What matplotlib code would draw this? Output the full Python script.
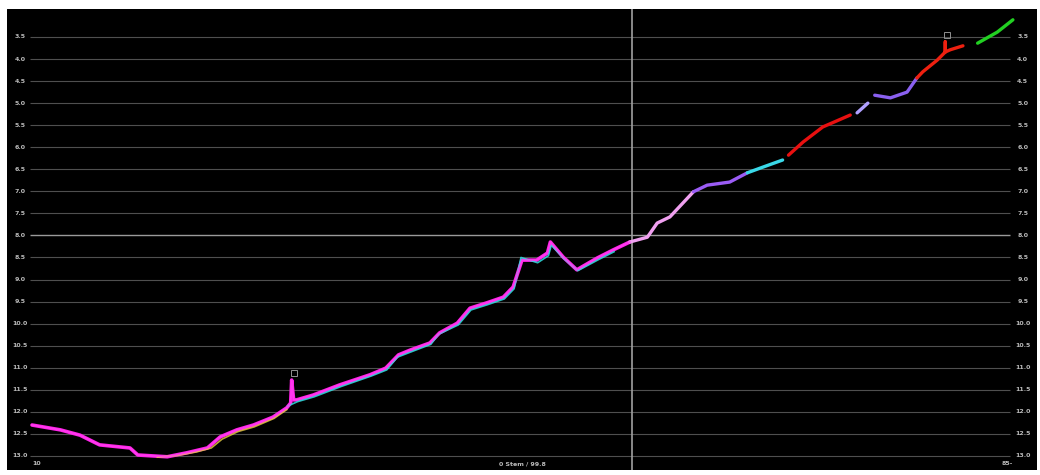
"""Multi-colour log trace on a black panel, inverted depth-style y axis."""
import matplotlib.pyplot as plt
import numpy as np

# main trace (several overlapping runs), left half
main_x = [0.2, 3.1, 5.1, 7.1, 10.2, 11.0, 14.0, 16.0, 18.1, 19.4, 21.1, 22.8, 24.8, 26.2,
          26.6, 26.7, 26.9, 27.2, 28.9, 31.6, 34.7, 36.3, 37.6, 38.8, 40.8, 41.8, 43.6,
          44.9, 46.6, 48.3, 49.3, 50.2, 51.7, 52.8, 53.1, 54.4, 55.8, 57.9, 59.5, 61.2]
main_y = [12.30, 12.41, 12.53, 12.75, 12.82, 12.98, 13.02, 12.93, 12.82, 12.57, 12.41, 12.30,
          12.12, 11.91, 11.80, 11.28, 11.73, 11.73, 11.62, 11.39, 11.16, 11.01, 10.71, 10.60,
          10.44, 10.21, 9.99, 9.65, 9.53, 9.40, 9.17, 8.56, 8.56, 8.40, 8.15, 8.49, 8.78,
          8.51, 8.33, 8.15]

# overlay runs drawn on top of the main trace
cyan_x = [26.3, 27.3, 29.0, 31.7, 34.8, 36.4, 37.5, 38.9, 40.9, 41.7, 43.7, 45.0, 46.7,
          48.4, 49.4, 50.1, 51.8, 52.9, 53.2, 54.5, 55.9, 58.0, 59.6]
cyan_y = [11.87, 11.77, 11.66, 11.43, 11.19, 11.05, 10.76, 10.64, 10.47, 10.24, 10.03,
          9.69, 9.57, 9.44, 9.21, 8.50, 8.62, 8.46, 8.22, 8.53, 8.80, 8.55, 8.37]
yellow_x = [13.0, 15.0, 17.0, 18.5, 19.6, 21.2, 22.9, 24.9, 26.2]
yellow_y = [13.03, 12.99, 12.91, 12.82, 12.62, 12.45, 12.34, 12.15, 11.95]

# right half, one colour per run
seg_x = [
    [61.2, 63.0, 64.0, 65.3, 67.7],
    [67.7, 69.1, 71.4, 73.2],
    [73.2, 74.8, 76.8],
    [77.4, 78.9, 80.9, 83.7],
    [84.4, 85.5],
    [86.2, 87.8, 89.5, 90.5],
    [90.5, 91.1, 92.6, 93.4, 93.4, 93.4, 93.9, 95.2],
    [96.7, 98.7, 100.3],
]
seg_y = [
    [8.15, 8.04, 7.72, 7.58, 7.01],
    [7.01, 6.86, 6.79, 6.58],
    [6.58, 6.45, 6.29],
    [6.18, 5.88, 5.54, 5.27],
    [5.22, 5.00],
    [4.82, 4.88, 4.75, 4.43],
    [4.43, 4.29, 4.02, 3.84, 3.61, 3.84, 3.79, 3.70],
    [3.64, 3.39, 3.11],
]
seg_colors = ["#f0a0f0", "#9b5cf5", "#3ad8e8", "#e81010", "#b0a0ff", "#8a60f0", "#ee2010",
              "#22d022"]

flag_x = [26.9, 93.6]
flag_y = [11.12, 3.45]

y_ticks = np.arange(3.5, 13.01, 0.5)
x_left, x_right = -2.35, 102.76
x_vline = 61.4

fig = plt.figure(figsize=(10.4, 4.75), dpi=100, facecolor="white")
ax = fig.add_axes([7 / 1040, 5 / 475, 1030 / 1040, 461 / 475])
ax.set_facecolor("black")
ax.set_xlim(x_left, x_right)
ax.set_ylim(13.32, 2.865)
ax.axis("off")
ax.add_patch(plt.Rectangle((0, 0), 1, 1, transform=ax.transAxes, color="black", zorder=0))

for v in y_ticks:
    bright = abs(v - 8.0) < 1e-6
    ax.hlines(v, 0, 100, color="#9a9a9a" if bright else "#4f4f4f", lw=1.0 if bright else 0.8,
              zorder=1)
    lab = f"{v:.1f}"
    ax.text(-1.0, v, lab, color="#bbbbbb", fontsize=4.5, fontweight="bold",
            ha="center", va="center")
    ax.text(101.3, v, lab, color="#bbbbbb", fontsize=4.5, fontweight="bold",
            ha="center", va="center")

ax.axvline(x_vline, color="#a0a0a0", lw=1.2, zorder=1)

ax.plot(main_x, main_y, color="#ff20e8", lw=2.6, solid_capstyle="round", zorder=3)
ax.plot(cyan_x, cyan_y, color="#30e0e0", lw=1.2, alpha=0.85, zorder=4)
ax.plot(main_x, main_y, color="#ff40f0", lw=1.3, alpha=0.8, zorder=5)
ax.plot(yellow_x, yellow_y, color="#e8d040", lw=1.2, alpha=0.8, zorder=4)

for xs, ys, c in zip(seg_x, seg_y, seg_colors):
    ax.plot(xs, ys, color=c, lw=2.4, solid_capstyle="round", zorder=3)

ax.plot(flag_x, flag_y, "s", mfc="none", mec="#909090", ms=4, mew=0.7, zorder=6)

ax.text(0.7, 13.18, "10", color="#bbbbbb", fontsize=4.5, fontweight="bold",
        ha="center", va="center")
ax.text(50.3, 13.18, "0 Stem / 99.8", color="#bbbbbb", fontsize=4.5, fontweight="bold",
        ha="center", va="center")
ax.text(99.7, 13.18, "85-", color="#bbbbbb", fontsize=4.5, fontweight="bold",
        ha="center", va="center")

fig.savefig("out.png", dpi=100, facecolor="white")
